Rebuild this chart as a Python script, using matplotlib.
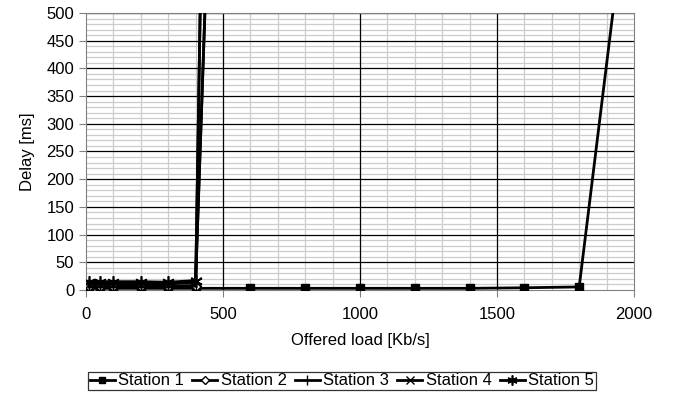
import numpy as np
import matplotlib.pyplot as plt
from matplotlib.ticker import MultipleLocator

plt.rcParams['font.family'] = ['Liberation Sans', 'DejaVu Sans']

# offered load and delay per station
load_low = [10, 50, 100, 200, 300, 400, 500]
load_s1 = [10, 50, 100, 200, 300, 400, 600, 800, 1000, 1200, 1400, 1600, 1800, 2000]
delay_s1 = [3, 3, 3, 3, 3, 3, 3, 3, 3, 3, 3, 4, 5.5, 810]
delay_s2 = [7, 7, 7, 7, 7, 8, 3000]
delay_s3 = [6, 6, 6, 6, 6, 7, 3000]
delay_s4 = [11, 11, 11, 11, 11, 14, 1450]
delay_s5 = [15, 15, 15, 15, 14, 17, 1450]

fig = plt.figure(figsize=(6.79, 3.98), dpi=100)
ax = fig.add_axes([0.1267, 0.2714, 0.807, 0.696])

ax.plot(load_s1, delay_s1, color='black', lw=2, marker='s', ms=6, label='Station 1', zorder=3)
ax.plot(load_low, delay_s2, color='black', lw=2, marker='D', ms=5, mfc='white', label='Station 2', zorder=3)
ax.plot(load_low, delay_s3, color='black', lw=2, marker='|', ms=9, mew=1, label='Station 3', zorder=3)
ax.plot(load_low, delay_s4, color='black', lw=2, marker='x', ms=7, mew=1, label='Station 4', zorder=3)
ax.plot(load_low, delay_s5, color='black', lw=2, marker=(6, 2, 0), ms=9, mew=1.2, label='Station 5', zorder=3)

ax.set_xlim(0, 2000)
ax.set_ylim(0, 500)
ax.xaxis.set_major_locator(MultipleLocator(500))
ax.xaxis.set_minor_locator(MultipleLocator(100))
ax.yaxis.set_major_locator(MultipleLocator(50))
ax.yaxis.set_minor_locator(MultipleLocator(10))
ax.grid(which='minor', color='#cccccc', lw=0.9)
ax.set_axisbelow(True)
# major grid drawn over the minor one
for x in ax.get_xticks():
    if 0 < x < 2000:
        ax.axvline(x, color='black', lw=0.9, zorder=1)
for y in ax.get_yticks():
    if 0 < y <= 500:
        ax.axhline(y, color='black', lw=0.9, zorder=1)
ax.tick_params(which='minor', length=0)
ax.tick_params(which='major', direction='out', length=5, labelsize=12, color='#808080')
ax.tick_params(axis='x', pad=7)
for s in ax.spines.values():
    s.set_color('#808080')

ax.set_xlabel('Offered load [Kb/s]', fontsize=12, labelpad=8)
ax.set_ylabel('Delay [ms]', fontsize=12, labelpad=8)

leg = ax.legend(loc='upper center', bbox_to_anchor=(0.467, -0.295), ncol=5, fontsize=12,
                frameon=True, fancybox=False, edgecolor='black', handlelength=1.5,
                handletextpad=0.2, columnspacing=0.5, borderpad=0.1, borderaxespad=0,
                markerscale=0.8)
leg.get_frame().set_linewidth(0.9)

plt.savefig('out.png', dpi=100)
